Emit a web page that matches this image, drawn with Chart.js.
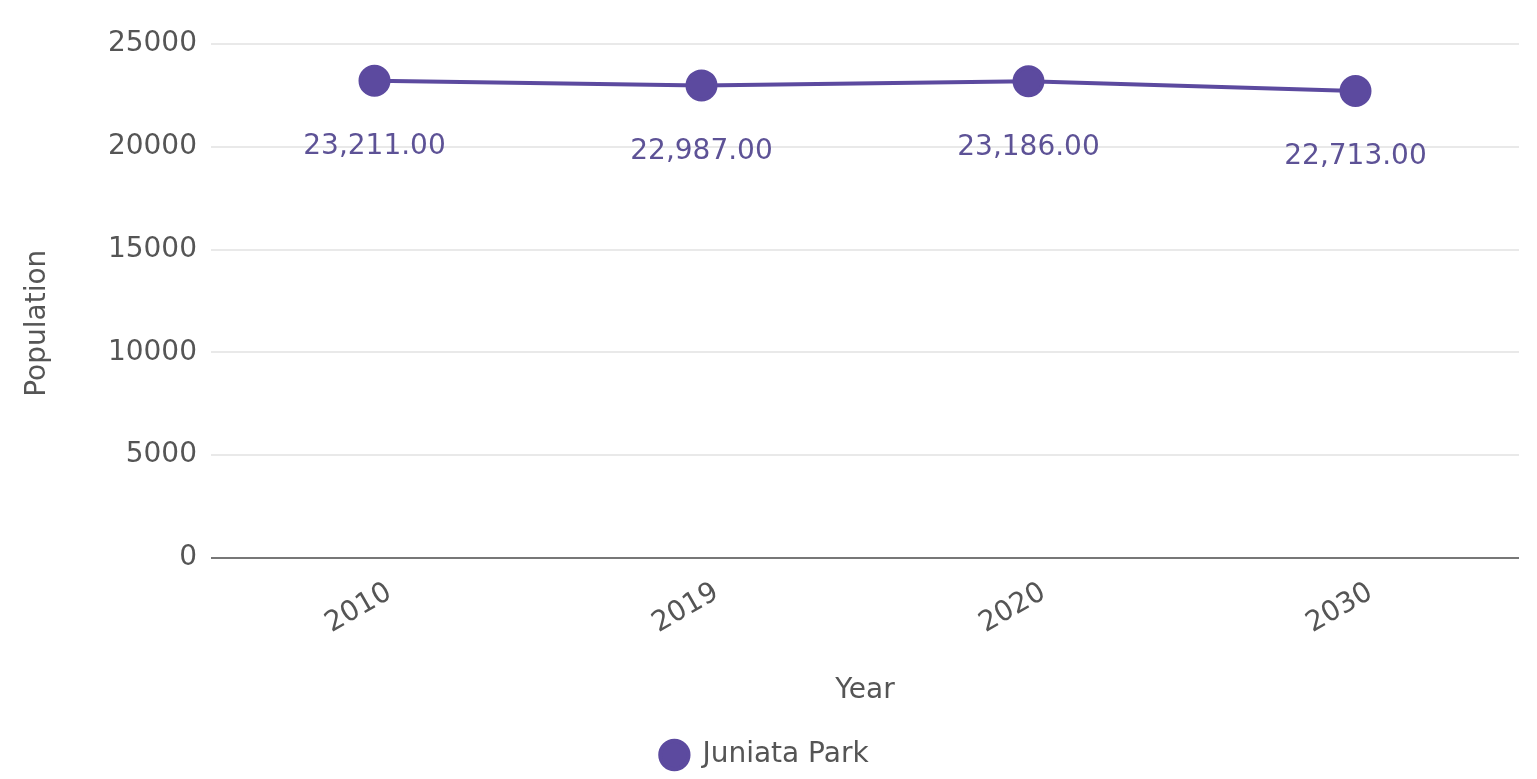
<!DOCTYPE html>
<html>
<head>
<meta charset="utf-8">
<script src="https://cdn.jsdelivr.net/npm/chart.js@4/dist/chart.umd.min.js"></script>
<style>
html,body{margin:0;padding:0;background:#fff;}
#wrap{position:relative;width:1537px;height:779px;}
</style>
</head>
<body>
<div id="wrap"><canvas id="c"></canvas></div>
<script>
const years = ['2010', '2019', '2020', '2030'];
const population = [23211, 22987, 23186, 22713];
const seriesName = 'Juniata Park';
const yTicks = [0, 5000, 10000, 15000, 20000, 25000];

const purple = '#5c4a9f';
const FONT = '"DejaVu Sans", Verdana, sans-serif';

const labelPlugin = {
  id: 'valueLabels',
  afterDatasetsDraw(chart) {
    const ctx = chart.ctx;
    chart.data.datasets.forEach((ds, i) => {
      const meta = chart.getDatasetMeta(i);
      meta.data.forEach((pt, j) => {
        const v = ds.data[j];
        const txt = v.toLocaleString('en-US', {minimumFractionDigits: 2, maximumFractionDigits: 2});
        ctx.save();
        ctx.font = '28px ' + FONT;
        ctx.fillStyle = '#5d5296';
        ctx.textAlign = 'center';
        ctx.textBaseline = 'middle';
        ctx.fillText(txt, pt.x, pt.y + 66);
        ctx.restore();
      });
    });
  }
};

new Chart(document.getElementById('c'), {
  type: 'line',
  data: {
    labels: years,
    datasets: [{
      label: seriesName,
      data: population,
      borderColor: purple,
      backgroundColor: purple,
      pointBackgroundColor: purple,
      pointBorderColor: purple,
      pointRadius: 14,
      pointHoverRadius: 14,
      borderWidth: 4,
      tension: 0
    }]
  },
  options: {
    responsive: true,
    maintainAspectRatio: false,
    animation: false,
    layout: { padding: { top: 44, left: 0, right: 8, bottom: 0 } },
    plugins: {
      legend: {
        position: 'bottom',
        labels: {
          usePointStyle: true,
          pointStyle: 'circle',
          boxHeight: 20,
          padding: 14,
          color: '#555',
          font: { family: FONT, size: 28 }
        }
      },
      tooltip: { enabled: false }
    },
    scales: {
      x: {
        offset: true,
        afterFit(axis) { axis.height = 169; },
        grid: { display: false },
        border: { display: false },
        ticks: {
          minRotation: 30,
          maxRotation: 30,
          labelOffset: 15,
          color: '#555',
          padding: 10,
          font: { family: FONT, size: 28 }
        },
        title: {
          display: true,
          text: 'Year',
          color: '#555',
          padding: { top: 0, bottom: 19 },
          font: { family: FONT, size: 28 }
        }
      },
      y: {
        min: 0,
        max: 25000,
        afterFit(axis) { axis.width = 211; },
        afterBuildTicks(axis) { axis.ticks = yTicks.map(v => ({ value: v })); },
        grid: {
          color: ctx => ctx.tick && ctx.tick.value === 0 ? '#777' : '#e9e9e9',
          lineWidth: 2,
          drawTicks: false
        },
        border: { display: false },
        ticks: {
          color: '#555',
          padding: 14,
          callback: v => String(v),
          font: { family: FONT, size: 28 }
        },
        title: {
          display: true,
          text: 'Population     ',
          color: '#555',
          padding: { top: 21, bottom: 0 },
          font: { family: FONT, size: 28 }
        }
      }
    }
  },
  plugins: [labelPlugin]
});
</script>
</body>
</html>
